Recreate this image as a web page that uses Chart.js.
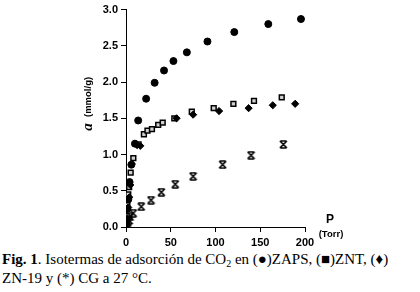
<!DOCTYPE html>
<html>
<head>
<meta charset="utf-8">
<script src="https://cdn.jsdelivr.net/npm/chart.js@4"></script>
<style>
  body { margin: 0; background: #fff; }
  #wrap { position: relative; width: 420px; height: 248px; }
  #caption {
    position: absolute; left: 2px; top: 250px;
    font-family: "Liberation Serif", "Times New Roman", serif;
    font-size: 15px; line-height: 19px; white-space: nowrap; color: #000;
  }
  #caption sub { font-size: 10px; vertical-align: -3px; line-height: 0; }
</style>
</head>
<body>
<div id="wrap"><canvas id="chart"></canvas></div>
<div id="caption"><b>Fig. 1</b>. Isotermas de adsorción de CO<sub>2</sub> en (●)ZAPS, (■)ZNT, (♦)<br>ZN-19 y (*) CG a 27 °C.</div>
<script>
// pressure (Torr) and adsorbed amount a (mmol/g)
const zapsP = [0.3, 0.8, 1.5, 2.5, 4, 6, 10, 13.6, 22.5, 32, 42.5, 53, 68, 91, 121, 159, 195.5];
const zapsA = [0.05, 0.12, 0.25, 0.38, 0.62, 0.86, 1.15, 1.47, 1.77, 1.99, 2.16, 2.29, 2.41, 2.56, 2.69, 2.80, 2.87];

const zntP = [0.3, 0.8, 1.5, 2.5, 3.5, 5.2, 8.2, 14, 20, 24, 29, 36, 41, 54, 73.5, 98, 120, 143, 174];
const zntA = [0.05, 0.15, 0.3, 0.45, 0.55, 0.75, 0.95, 1.14, 1.28, 1.33, 1.35, 1.41, 1.44, 1.50, 1.59, 1.64, 1.70, 1.74, 1.79];

const zn19P = [0.5, 1.2, 2.5, 3.7, 4.8, 6.5, 12.5, 16, 56.5, 75, 104, 137, 164, 189];
const zn19A = [0.04, 0.12, 0.27, 0.41, 0.58, 0.87, 1.13, 1.12, 1.50, 1.55, 1.60, 1.64, 1.68, 1.70];

const cgP = [0.3, 1, 2, 3.5, 4.5, 8, 17, 28, 39.5, 55, 75, 108, 139.7, 175.8];
const cgA = [0.01, 0.03, 0.06, 0.09, 0.14, 0.19, 0.28, 0.37, 0.48, 0.59, 0.70, 0.86, 0.99, 1.14];

const xTicks = [0, 50, 100, 150, 200];
const yTicks = [0, 0.5, 1.0, 1.5, 2.0, 2.5, 3.0];

function pts(xs, ys) {
    return xs.map(function (x, i) { return { x: x, y: ys[i] }; });
}

// hourglass-like cross marker for CG
function cgMarker() {
    const c = document.createElement('canvas');
    c.width = 9; c.height = 9;
    const g = c.getContext('2d');
    g.strokeStyle = '#000';
    g.lineWidth = 1.6;
    g.beginPath();
    g.moveTo(1, 1); g.lineTo(8, 8);
    g.moveTo(8, 1); g.lineTo(1, 8);
    g.moveTo(1.5, 1); g.lineTo(7.5, 1);
    g.moveTo(1.5, 8); g.lineTo(7.5, 8);
    g.stroke();
    return c;
}

const axisLabels = {
    id: 'axisLabels',
    afterDraw(chart) {
        const ctx = chart.ctx;
        ctx.save();
        ctx.fillStyle = '#000';
        // y title, rotated
        ctx.translate(88, 127);
        ctx.rotate(-Math.PI / 2);
        ctx.textBaseline = 'middle';
        ctx.textAlign = 'center';
        ctx.font = 'italic bold 15px "Liberation Serif"';
        ctx.fillText('a', 0, 0);
        ctx.textAlign = 'left';
        ctx.font = 'bold 9.5px "Liberation Sans"';
        ctx.fillText('(mmol/g)', 10, 0);
        ctx.restore();

        ctx.save();
        ctx.fillStyle = '#000';
        ctx.textAlign = 'center';
        ctx.textBaseline = 'middle';
        ctx.font = 'bold 12px "Liberation Sans"';
        ctx.fillText('P', 330, 220);
        ctx.font = 'bold 9.5px "Liberation Sans"';
        ctx.fillText('(Torr)', 331, 234);
        ctx.restore();
    }
};

const ctx = document.getElementById('chart').getContext('2d');

new Chart(ctx, {
    type: 'scatter',
    data: {
        datasets: [{
            label: 'ZN-19',
            data: pts(zn19P, zn19A),
            pointStyle: 'rectRot',
            pointRadius: 3.6,
            backgroundColor: '#000',
            borderColor: '#000',
            borderWidth: 1
        }, {
            label: 'ZNT',
            data: pts(zntP, zntA),
            pointStyle: 'rect',
            pointRadius: 3.4,
            backgroundColor: '#d0d0d0',
            borderColor: '#000',
            borderWidth: 1.5
        }, {
            label: 'ZAPS',
            data: pts(zapsP, zapsA),
            pointStyle: 'circle',
            pointRadius: 3.5,
            backgroundColor: '#000',
            borderColor: '#000',
            borderWidth: 1
        }, {
            label: 'CG',
            data: pts(cgP, cgA),
            pointStyle: cgMarker()
        }]
    },
    options: {
        responsive: true,
        maintainAspectRatio: false,
        animation: false,
        layout: { autoPadding: false, padding: { left: 0, right: 115, top: 4, bottom: 0 } },
        plugins: { legend: { display: false }, tooltip: { enabled: false } },
        scales: {
            x: {
                type: 'linear',
                min: 0, max: 200,
                afterBuildTicks: function (s) { s.ticks = xTicks.map(function (v) { return { value: v }; }); },
                afterFit: function (s) { s.height = 21; },
                grid: { drawOnChartArea: false, tickLength: 5, color: '#000' },
                border: { color: '#000', width: 1 },
                ticks: {
                    color: '#000', padding: 4,
                    font: { family: 'Liberation Sans', size: 11, weight: 'bold' }
                }
            },
            y: {
                min: 0, max: 3,
                afterBuildTicks: function (s) { s.ticks = yTicks.map(function (v) { return { value: v }; }); },
                afterFit: function (s) { s.width = 126; },
                grid: { drawOnChartArea: false, tickLength: 5, color: '#000' },
                border: { color: '#000', width: 1 },
                ticks: {
                    color: '#000', padding: 3,
                    font: { family: 'Liberation Sans', size: 11, weight: 'bold' },
                    callback: function (v) { return v.toFixed(1); }
                }
            }
        }
    },
    plugins: [axisLabels]
});
</script>
</body>
</html>
